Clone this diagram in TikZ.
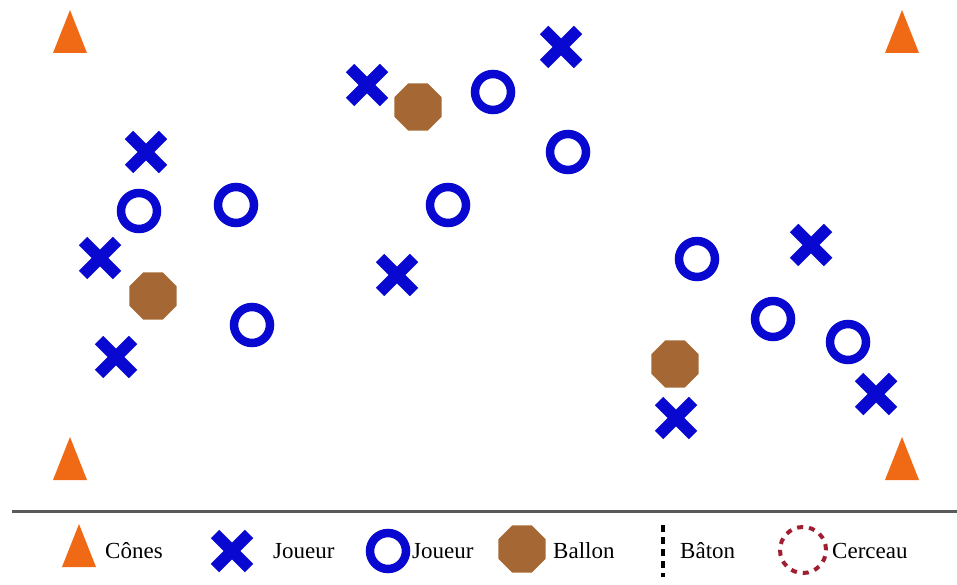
\documentclass[tikz,border=0pt]{standalone}
\usepackage{fontspec}
\setmainfont{Liberation Serif}
\usepackage{xcolor}

\definecolor{joueurblue}{RGB}{8,8,208}
\definecolor{coneorange}{RGB}{240,105,20}
\definecolor{ballonbrown}{RGB}{165,104,52}
\definecolor{cerceaured}{RGB}{160,30,50}
\definecolor{linegray}{RGB}{90,90,90}

\tikzset{
    cone/.pic={\fill[coneorange] (-17,-21)--(17,-21)--(0,22)--cycle;},
    joueurx/.pic={\draw[joueurblue, line width=12pt] (-17,-17)--(17,17) (-17,17)--(17,-17);},
    joueuro/.pic={\draw[joueurblue, line width=8.5pt] (0,0) circle (18pt);},
    ballon/.pic={\node[regular polygon, regular polygon sides=8, fill=ballonbrown,
        minimum size=51pt, inner sep=0pt] {};},
    legendtext/.style={anchor=base west, inner sep=0pt, font=\fontsize{23}{25}\selectfont}
}
\usetikzlibrary{shapes.geometric}

\begin{document}
\begin{tikzpicture}[x=1pt, y=1pt]
    \useasboundingbox (0,0) rectangle (957,584);
    % plots
    \pic at (70,552) {cone};
    \pic at (902,552) {cone};
    \pic at (70,125) {cone};
    \pic at (902,125) {cone};
    % joueurs x
    \foreach \px/\py in {146/432, 367/499, 561/537, 100/326, 116/227,
                         397/309, 811/339, 876/190, 676/166}
        \pic at (\px,\py) {joueurx};
    % joueurs o
    \foreach \px/\py in {139/373, 236/379, 252/259, 493/492, 568/432,
                         448/379, 697/325, 773/265, 848/242}
        \pic at (\px,\py) {joueuro};
    % ballons
    \foreach \px/\py in {418/477, 153/288, 675/220}
        \pic at (\px,\py) {ballon};
    % legende
    \coordinate (sepL) at (12,73);
    \coordinate (sepR) at (957,73);
    \draw[linegray, line width=3pt] (sepL)--(sepR);
    \pic at (79,38) {cone};
    \node[legendtext] (cones) at (105,26) {Cônes};
    \pic at (232,33) {joueurx};
    \node[legendtext] (joueurX) at (273,26) {Joueur};
    \pic at (388,33) {joueuro};
    \node[legendtext] (joueurO) at (412,26) {Joueur};
    \pic at (522,35) {ballon};
    \node[legendtext] (ballon) at (553,26) {Ballon};
    \coordinate (batonT) at (663,59);
    \coordinate (batonB) at (663,7);
    \draw[line width=4pt, dash pattern=on 7pt off 5pt] (batonT)--(batonB);
    \node[legendtext] (baton) at (680,26) {Bâton};
    \draw[cerceaured, line width=4pt, dash pattern=on 6pt off 6pt] (803,34) circle (23pt);
    \node[legendtext] (cerceau) at (832,26) {Cerceau};
\end{tikzpicture}
\end{document}
